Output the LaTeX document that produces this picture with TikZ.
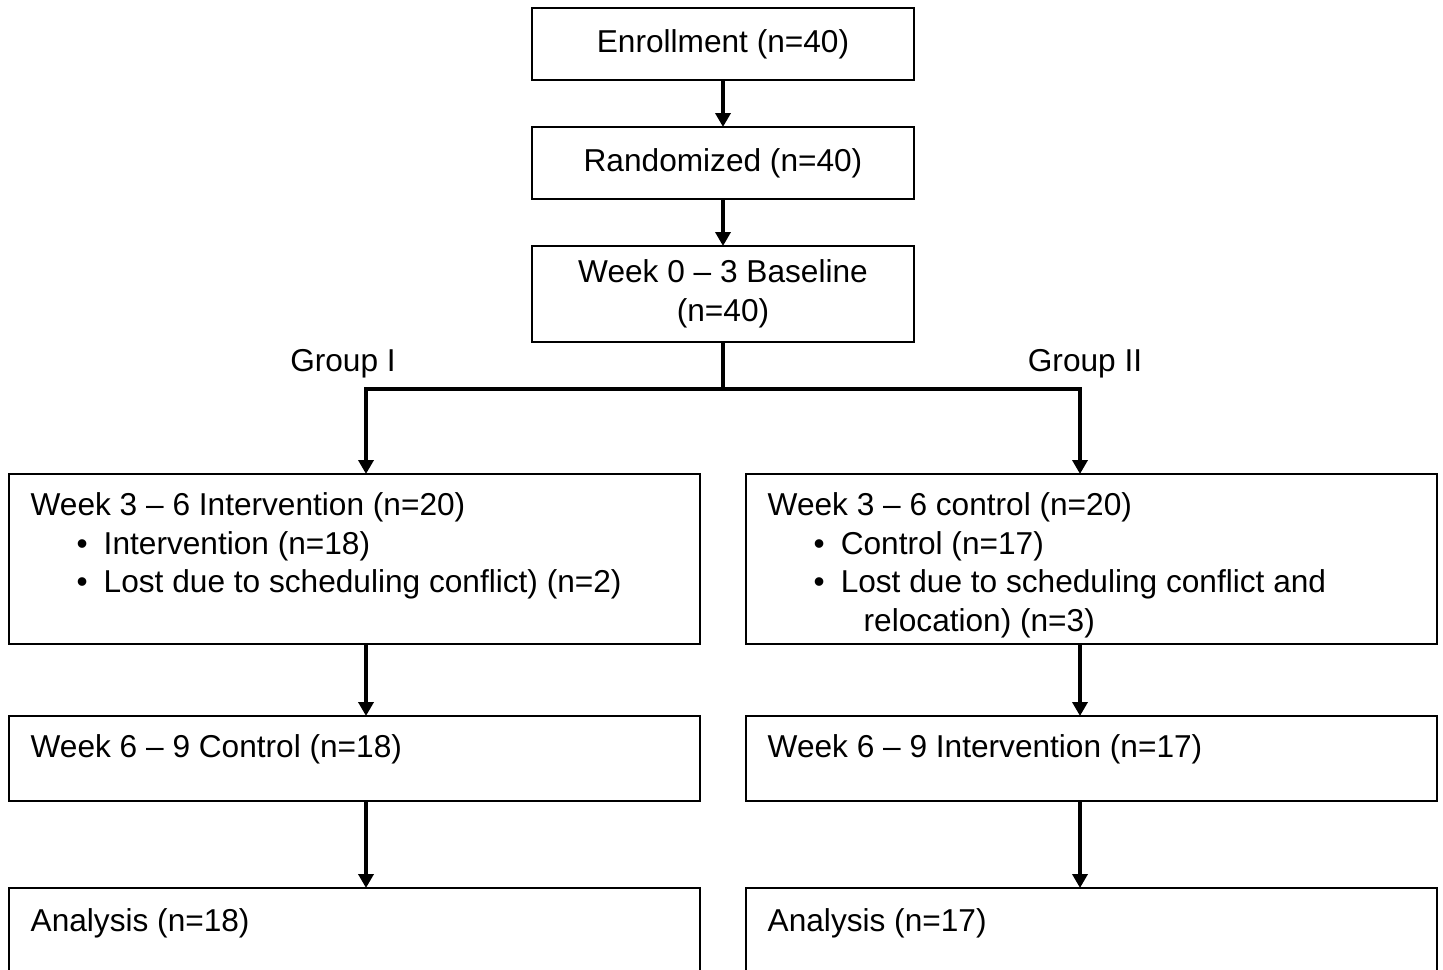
\documentclass[tikz,border=0pt]{standalone}
\usepackage{fontspec}
\setmainfont{Liberation Sans}
\usetikzlibrary{positioning,arrows.meta}

\begin{document}
\begin{tikzpicture}
[
    font=\fontsize{9pt}{11pt}\selectfont,
    box/.style={draw, line width=0.65pt, minimum width=3.82cm, minimum height=0.72cm, align=center, inner sep=0pt, outer sep=0pt},
    bigbox/.style={draw, line width=0.65pt, minimum width=6.91cm, inner sep=0pt, outer sep=0pt},
    boxtext/.style={anchor=north west, align=left, inner sep=0pt},
    flow/.style={line width=1.1pt, -{Triangle[width=0.15cm, length=0.14cm]}},
]
\useasboundingbox (0,0) rectangle (14.43,-9.70);
\node [box] (enroll) at (7.23,-0.44) {Enrollment (n=40)};
\node [box, below=0.47cm of enroll] (random) {Randomized (n=40)};
\node [box, below=0.47cm of random, minimum height=0.96cm] (base) {Week 0 -- 3 Baseline\\(n=40)};
\node [bigbox, below=1.32cm of base, xshift=-3.685cm, minimum height=1.70cm] (g1a) {};
\node [bigbox, below=1.32cm of base, xshift=3.685cm, minimum height=1.70cm] (g2a) {};
\node [bigbox, below=0.72cm of g1a, minimum height=0.85cm] (g1b) {};
\node [bigbox, below=0.72cm of g2a, minimum height=0.85cm] (g2b) {};
\node [bigbox, below=0.87cm of g1b, minimum height=1.20cm] (g1c) {};
\node [bigbox, below=0.87cm of g2b, minimum height=1.20cm] (g2c) {};
\node [boxtext] (t1a) at ([shift={(0.21,-0.18)}]g1a.north west)
{Week 3 -- 6 Intervention (n=20)\\
\hspace*{0.46cm}\textbullet\hspace*{0.16cm}Intervention (n=18)\\
\hspace*{0.46cm}\textbullet\hspace*{0.16cm}Lost due to scheduling conflict) (n=2)};
\node [boxtext] (t2a) at ([shift={(0.21,-0.18)}]g2a.north west)
{Week 3 -- 6 control (n=20)\\
\hspace*{0.46cm}\textbullet\hspace*{0.16cm}Control (n=17)\\
\hspace*{0.46cm}\textbullet\hspace*{0.16cm}Lost due to scheduling conflict and\\
\hspace*{0.96cm}relocation) (n=3)};
\node [boxtext] (t1b) at ([shift={(0.21,-0.18)}]g1b.north west) {Week 6 -- 9 Control (n=18)};
\node [boxtext] (t2b) at ([shift={(0.21,-0.18)}]g2b.north west) {Week 6 -- 9 Intervention (n=17)};
\node [boxtext] (t1c) at ([shift={(0.21,-0.20)}]g1c.north west) {Analysis (n=18)};
\node [boxtext] (t2c) at ([shift={(0.21,-0.20)}]g2c.north west) {Analysis (n=17)};
\node (grp1) at (3.43,-3.64) {Group I};
\node (grp2) at (10.85,-3.64) {Group II};
\draw [flow] (enroll) -- (random);
\draw [flow] (random) -- (base);
\draw [line width=1.1pt] (base.south) -- ++(0,-0.47) coordinate (split);
\draw [flow] (split) -| ([xshift=1.15mm]g1a.north);
\draw [flow] (split) -| ([xshift=-1.15mm]g2a.north);
\draw [flow] ([xshift=1.15mm]g1a.south) -- ([xshift=1.15mm]g1b.north);
\draw [flow] ([xshift=-1.15mm]g2a.south) -- ([xshift=-1.15mm]g2b.north);
\draw [flow] ([xshift=1.15mm]g1b.south) -- ([xshift=1.15mm]g1c.north);
\draw [flow] ([xshift=-1.15mm]g2b.south) -- ([xshift=-1.15mm]g2c.north);
\end{tikzpicture}
\end{document}
